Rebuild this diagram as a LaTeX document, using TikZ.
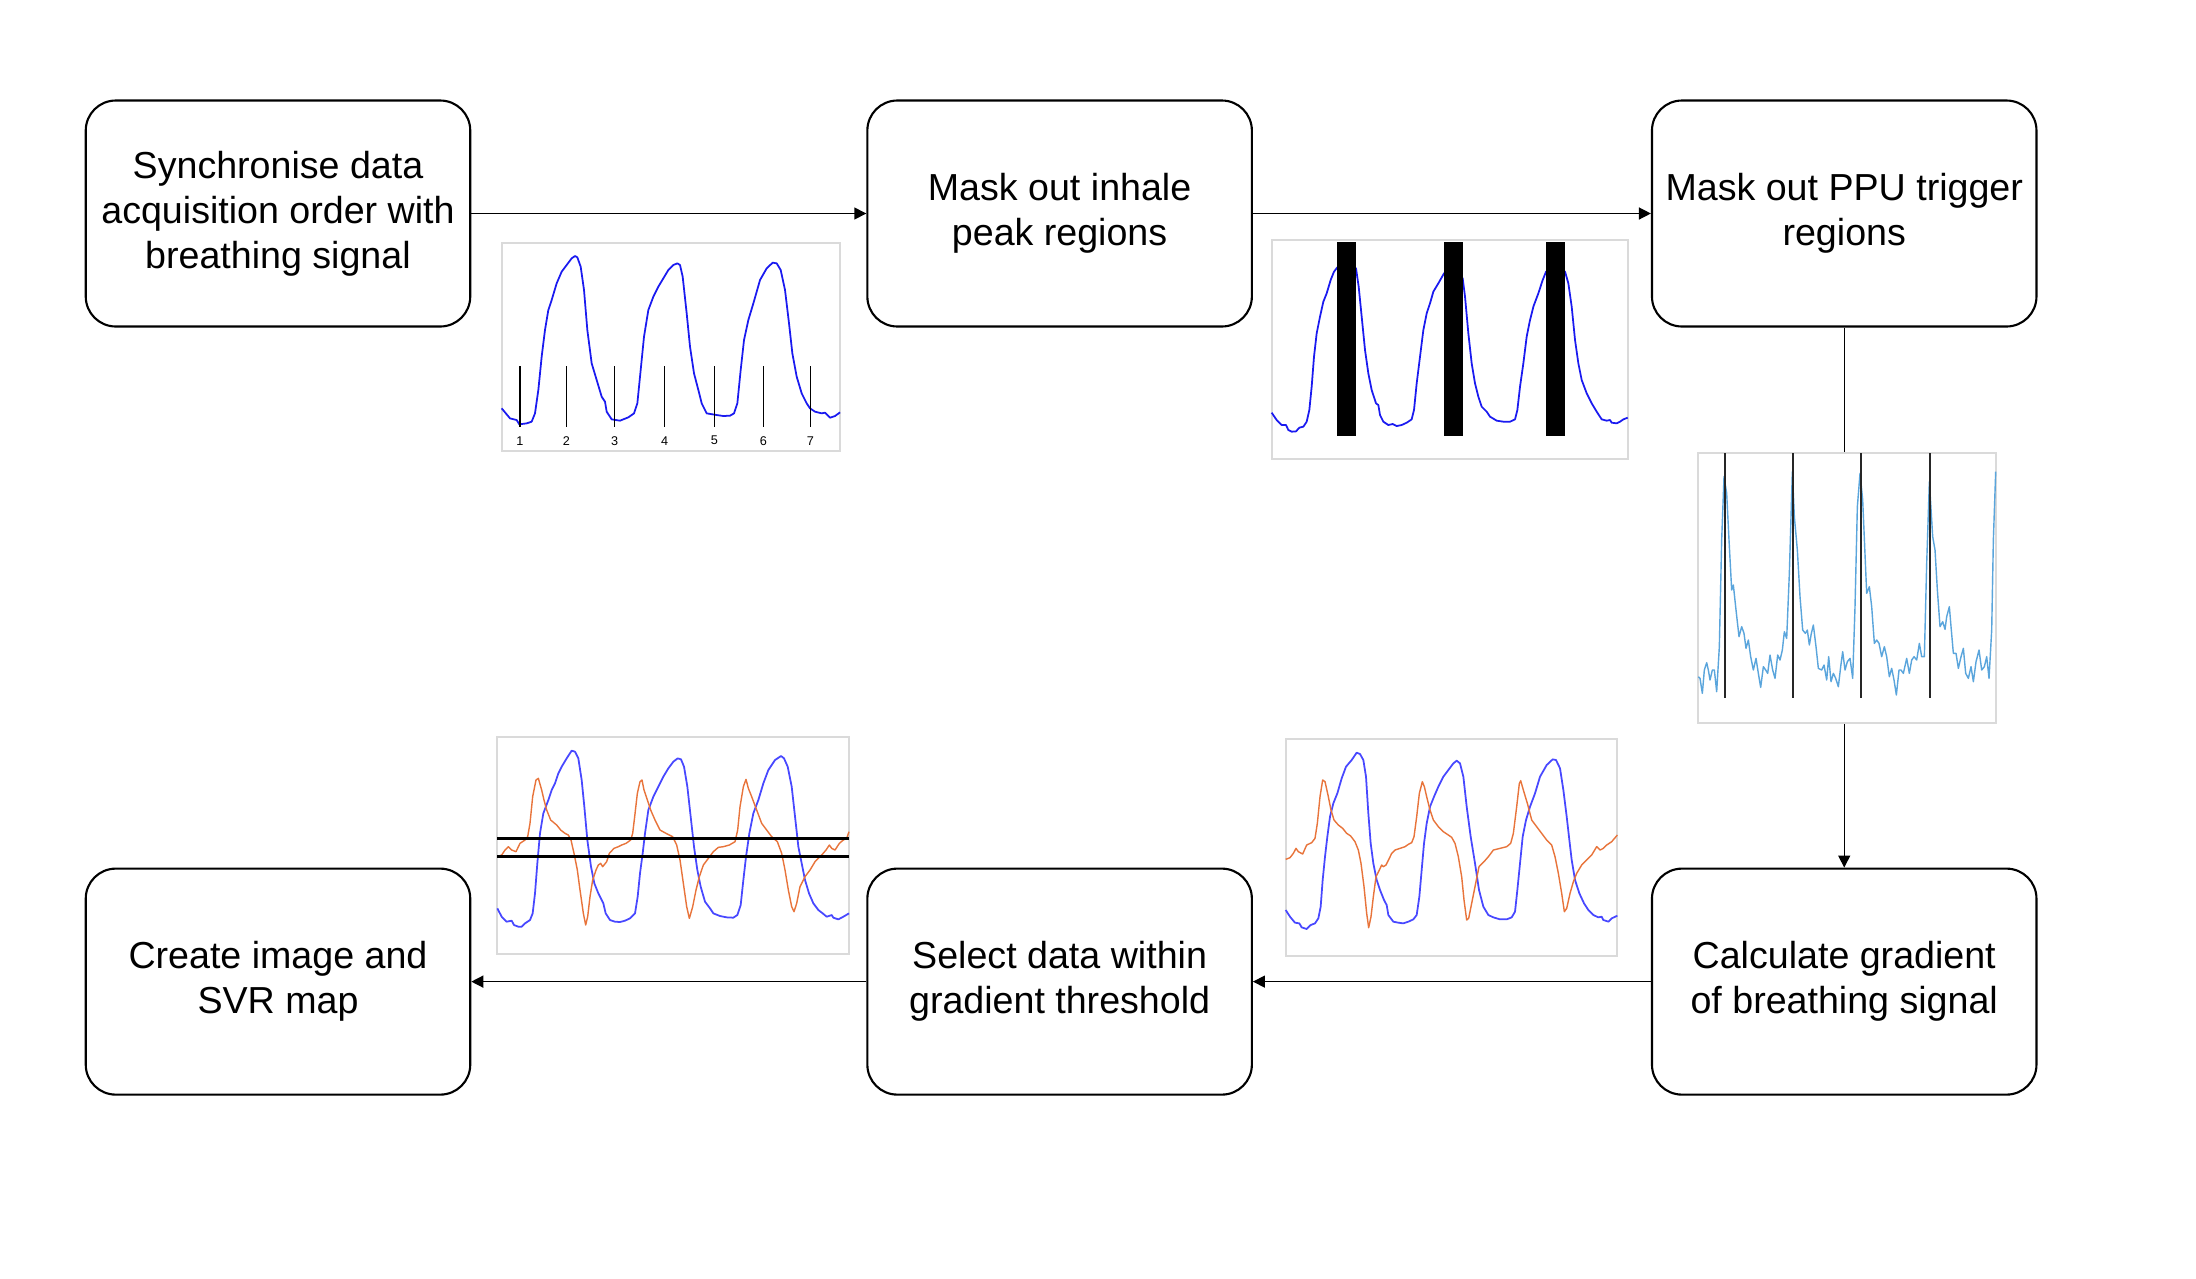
\documentclass[tikz,border=0pt]{standalone}
\usepackage{fontspec}
\setmainfont{Liberation Sans}
\usetikzlibrary{positioning,arrows.meta}
\definecolor{SigBlue}{HTML}{1A1AF0}
\definecolor{SigBlueLight}{HTML}{4848FF}
\definecolor{SigOrange}{HTML}{E8743B}
\definecolor{PpuBlue}{HTML}{5AA5DC}
\definecolor{FrameGrey}{HTML}{DADADA}

\begin{document}
\begin{tikzpicture}[
        stage/.style={
            draw=black,
            line width=0.6pt,
            rounded corners=0.3cm,
            align=center,
            font=\fontsize{10.7}{12.8}\selectfont,
            minimum width=3.845cm,
            minimum height=2.26cm,
            inner sep=2pt
        },
        arr/.style={-{Triangle[length=1.2mm,width=1.2mm]}, line width=0.4pt},
        panel/.style={draw=FrameGrey, fill=white, line width=0.5pt},
        trace/.style={line width=0.5pt, line join=round},
        ticklabel/.style={font=\fontsize{3.6}{4}\selectfont, inner sep=0pt}
    ]
        \useasboundingbox (0,0) rectangle (21.96,-12.78);
        \node[stage] (sync) at (2.78,-2.135) {Synchronise data\\acquisition order with\\breathing signal};
        \node[stage, right=3.95cm of sync] (inhale) {Mask out inhale\\peak regions};
        \node[stage, right=3.98cm of inhale] (ppu) {Mask out PPU trigger\\regions};
        \node[stage, below=5.40cm of ppu] (grad) {Calculate gradient\\of breathing signal};
        \node[stage, left=3.98cm of grad] (select) {Select data within\\gradient threshold};
        \node[stage, left=3.95cm of select] (svr) {Create image and\\SVR map};
        \draw[arr] (sync) -- (inhale);
        \draw[arr] (inhale) -- (ppu);
        \draw[arr] (ppu) -- (grad);
        \draw[arr] (grad) -- (select);
        \draw[arr] (select) -- (svr);

        % breathing signal with acquisition order
        \begin{scope}[shift={(4.90,-2.30)}, x=0.033333mm, y=-0.033333mm]
            \draw[panel] (35,40) rectangle (1050,662);
            \draw[trace, SigBlue] plot coordinates {(35,535) (60,565) (80,570) (88,583) (110,580) (125,575) (135,550) (145,480) (155,380) (165,300) (175,240) (185,210) (200,160) (215,125) (230,105) (245,85) (255,78) (262,82) (272,110) (282,180) (292,300) (305,400) (320,450) (335,500) (345,515) (350,545) (365,568) (390,572) (415,562) (432,550) (442,520) (452,420) (462,320) (475,240) (490,200) (505,170) (520,145) (535,120) (550,105) (562,100) (570,105) (578,140) (590,250) (600,350) (612,430) (625,480) (635,520) (650,550) (680,555) (700,558) (720,557) (732,550) (742,520) (752,420) (762,330) (775,270) (790,220) (810,150) (830,115) (848,98) (860,100) (872,120) (885,180) (897,280) (907,370) (920,440) (935,490) (950,520) (960,535) (975,545) (995,550) (1005,548) (1020,563) (1035,558) (1050,547)};
            \foreach \x/\n in {90/1,229/2,374/3,524/4,673/5,820/6,961/7} {
                \draw[line width=0.45pt] (\x,408) -- (\x,590);
                \node[ticklabel] (order\n) at (\x,632) {\n};
            }
        \end{scope}

        % inhale peaks masked
        \begin{scope}[shift={(12.60,-2.30)}, x=0.033333mm, y=-0.033333mm]
            \draw[panel] (35,30) rectangle (1103,687);
            \draw[trace, SigBlue] plot coordinates {(35,548) (50,570) (65,585) (78,585) (85,600) (95,605) (108,604) (118,593) (130,590) (140,575) (148,540) (155,470) (162,380) (170,310) (180,260) (190,215) (200,190) (212,150) (222,125) (232,112) (260,100) (288,115) (296,170) (305,260) (315,360) (325,430) (335,480) (348,520) (355,525) (360,555) (370,575) (385,585) (398,582) (410,588) (425,585) (440,578) (455,568) (462,540) (470,460) (480,380) (490,300) (500,250) (510,220) (520,185) (535,160) (552,130) (580,120) (608,145) (615,200) (625,310) (635,400) (645,460) (655,500) (665,530) (680,545) (690,560) (710,572) (730,575) (750,575) (765,568) (772,540) (780,470) (790,400) (800,320) (810,270) (820,230) (835,190) (848,150) (858,125) (885,110) (915,125) (925,160) (935,230) (945,330) (955,400) (965,450) (980,490) (995,520) (1010,545) (1025,568) (1040,572) (1050,570) (1055,578) (1070,580) (1080,575) (1090,568) (1103,563)};
            \fill (232,35) rectangle (288,619);
            \fill (552,35) rectangle (608,619);
            \fill (858,35) rectangle (915,619);
        \end{scope}

        % PPU trigger signal
        \begin{scope}[shift={(16.80,-4.40)}, x=0.033333mm, y=-0.033333mm]
            \draw[panel] (55,40) rectangle (947,848);
            \draw[line width=0.4pt, line join=round, PpuBlue] plot coordinates {(55,710) (60,715) (67,760) (73,690) (80,668) (85,690) (90,720) (97,690) (103,690) (110,755) (118,620) (125,300) (132,110) (140,160) (147,300) (155,450) (160,435) (168,510) (177,590) (185,560) (192,580) (198,625) (205,600) (212,650) (220,690) (228,655) (235,700) (242,742) (250,680) (257,690) (263,700) (270,645) (278,690) (285,715) (293,645) (300,660) (307,630) (313,575) (320,595) (328,400) (337,95) (343,230) (352,330) (360,470) (368,570) (376,580) (382,570) (388,615) (394,580) (400,555) (408,620) (415,685) (425,690) (432,675) (440,720) (446,650) (453,725) (460,700) (467,715) (475,740) (482,680) (488,635) (495,690) (502,665) (510,655) (518,715) (525,500) (532,200) (540,100) (548,180) (560,460) (568,440) (575,500) (583,610) (590,600) (597,610) (605,650) (613,620) (620,650) (628,710) (635,685) (642,720) (649,765) (657,690) (663,690) (670,700) (680,655) (688,700) (695,660) (702,650) (710,660) (718,610) (725,650) (733,650) (740,370) (748,125) (758,290) (765,330) (772,450) (780,560) (788,545) (795,568) (800,530) (808,500) (813,560) (820,640) (828,640) (835,685) (843,650) (850,625) (857,700) (865,715) (873,680) (880,725) (888,665) (897,630) (905,690) (913,680) (920,650) (927,715) (935,570) (940,300) (947,95)};
            \foreach \x in {135,340,544,749}
                \draw[line width=0.55pt, black!85] (\x,40) -- (\x,773);
        \end{scope}

        % gradient with threshold
        \begin{scope}[shift={(4.90,-7.30)}, x=0.033333mm, y=-0.033333mm]
            \draw[panel] (22,20) rectangle (1077,672);
            \draw[trace, SigBlueLight] plot coordinates {(22,535) (35,560) (50,575) (65,572) (72,585) (85,590) (95,590) (105,580) (120,570) (128,550) (135,490) (142,400) (150,310) (160,250) (175,210) (185,180) (195,160) (205,130) (215,110) (230,85) (245,62) (255,65) (265,85) (275,150) (283,230) (292,330) (303,410) (313,460) (325,490) (340,520) (347,550) (360,570) (375,575) (390,576) (405,572) (420,565) (435,550) (443,500) (450,430) (458,370) (465,310) (475,240) (490,200) (505,170) (520,140) (535,115) (550,95) (563,85) (573,88) (582,110) (592,170) (602,260) (612,350) (622,420) (632,470) (645,515) (660,535) (670,550) (690,558) (710,562) (730,563) (742,555) (752,525) (760,450) (768,380) (778,310) (790,250) (805,210) (820,160) (835,120) (855,90) (873,78) (882,85) (893,110) (905,170) (915,260) (925,350) (935,400) (945,450) (957,490) (970,520) (985,540) (998,550) (1010,560) (1025,555) (1030,563) (1045,568) (1060,560) (1077,550)};
            \draw[line width=0.4pt, line join=round, SigOrange] plot coordinates {(22,380) (35,375) (45,360) (55,350) (65,360) (78,365) (90,340) (105,330) (113,320) (120,280) (128,200) (138,150) (145,145) (155,180) (162,210) (170,240) (182,270) (200,285) (212,300) (225,310) (235,315) (243,330) (252,370) (262,420) (270,480) (280,550) (287,585) (293,560) (300,500) (308,450) (318,420) (325,405) (332,400) (338,410) (350,395) (358,370) (372,355) (385,350) (395,345) (408,340) (422,330) (428,310) (434,260) (442,190) (450,155) (456,150) (462,180) (472,210) (482,240) (495,270) (510,300) (528,310) (548,320) (560,345) (570,390) (580,460) (590,530) (598,565) (608,530) (618,480) (628,440) (640,405) (655,385) (670,365) (685,352) (700,350) (718,345) (735,335) (743,300) (750,230) (760,170) (768,148) (775,175) (785,200) (800,240) (815,280) (830,300) (845,320) (862,335) (875,370) (885,420) (895,480) (905,530) (912,545) (920,520) (930,470) (945,440) (960,420) (975,395) (995,375) (1008,360) (1018,345) (1025,355) (1035,360) (1048,340) (1060,330) (1070,325) (1077,305)};
            \draw[line width=0.75pt] (22,325) -- (1077,325);
            \draw[line width=0.75pt] (22,380) -- (1077,380);
        \end{scope}

        % gradient of breathing signal
        \begin{scope}[shift={(12.80,-7.30)}, x=0.033333mm, y=-0.033333mm]
            \draw[panel] (17,28) rectangle (1012,679);
            \draw[trace, SigBlueLight] plot coordinates {(17,540) (30,560) (45,578) (58,580) (65,592) (80,597) (92,585) (105,580) (115,565) (122,530) (128,450) (135,380) (142,320) (150,260) (160,220) (172,190) (185,145) (198,110) (215,90) (230,68) (240,72) (250,90) (258,140) (265,250) (272,340) (280,400) (290,450) (300,480) (312,510) (320,525) (325,555) (340,575) (355,578) (370,580) (385,575) (400,568) (410,555) (418,500) (425,420) (432,340) (440,280) (450,230) (462,200) (475,170) (490,140) (505,120) (520,100) (530,92) (540,100) (550,140) (560,230) (572,320) (585,400) (597,480) (610,530) (625,555) (640,562) (660,568) (680,568) (695,562) (705,545) (712,480) (720,400) (728,320) (738,270) (750,230) (765,190) (780,140) (800,105) (818,88) (828,90) (840,115) (850,180) (860,260) (868,330) (875,390) (885,450) (898,490) (912,520) (925,540) (940,555) (955,562) (965,560) (970,570) (985,575) (995,565) (1012,557)};
            \draw[line width=0.4pt, line join=round, SigOrange] plot coordinates {(17,388) (30,383) (40,370) (48,355) (55,365) (68,372) (80,345) (95,338) (105,325) (112,280) (120,200) (128,150) (135,155) (145,200) (153,240) (162,270) (175,285) (188,295) (200,310) (212,318) (225,335) (235,360) (243,400) (252,470) (260,550) (266,593) (273,560) (280,500) (288,440) (298,420) (305,405) (310,410) (318,405) (328,385) (335,370) (345,360) (360,355) (375,350) (385,343) (395,338) (402,320) (410,260) (418,190) (427,155) (433,170) (440,200) (450,240) (460,270) (475,290) (490,305) (505,315) (515,322) (525,340) (535,380) (545,440) (552,510) (560,570) (566,565) (575,520) (585,470) (597,410) (612,395) (625,380) (640,360) (660,355) (680,350) (692,340) (700,310) (710,230) (718,160) (722,152) (730,180) (742,220) (755,270) (770,290) (785,310) (800,330) (815,345) (825,380) (835,430) (845,490) (853,545) (860,535) (870,490) (880,455) (890,430) (905,405) (920,390) (935,375) (950,350) (960,360) (970,355) (980,345) (995,335) (1012,315)};
        \end{scope}
    \end{tikzpicture}
\end{document}
